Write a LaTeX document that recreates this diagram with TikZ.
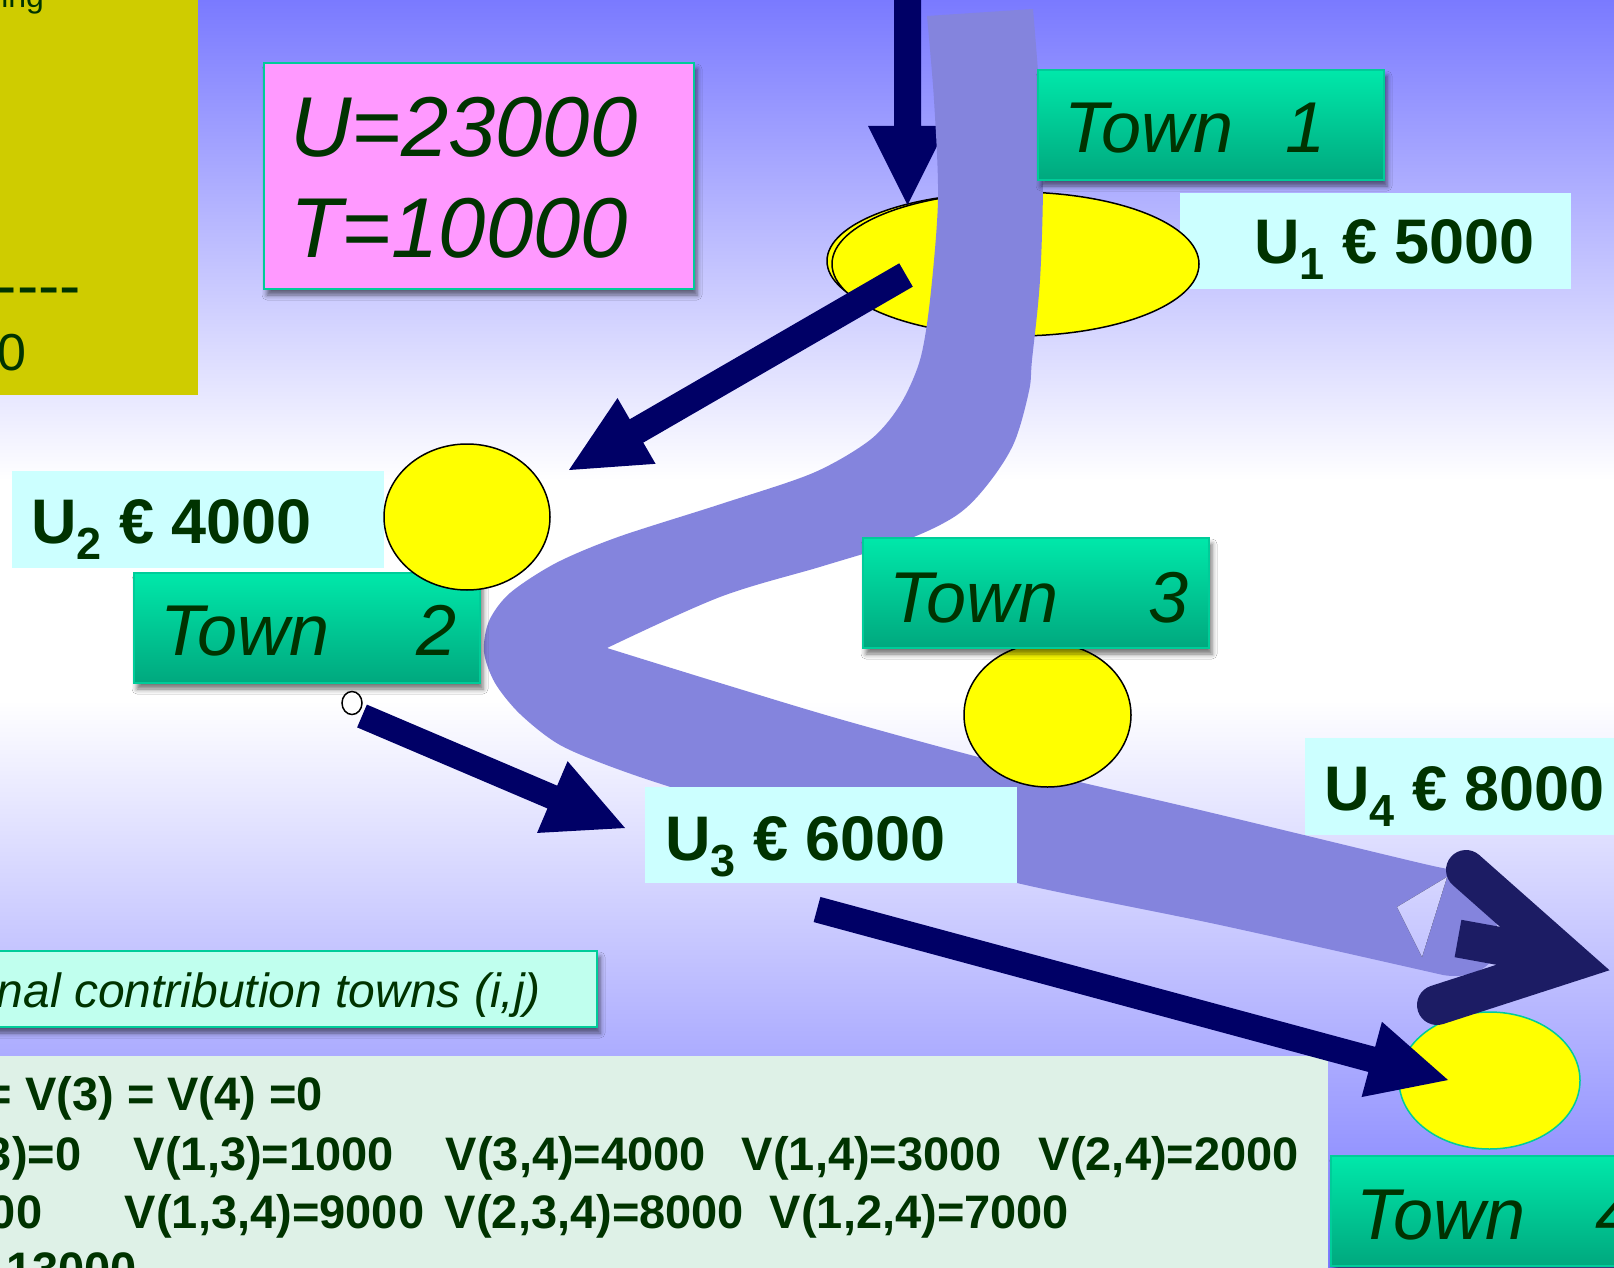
\documentclass[tikz,border=0pt]{standalone}
\usepackage{fontspec}
\setmainfont{Liberation Sans}
\usetikzlibrary{calc,shapes.geometric,shadows.blur}

\definecolor{bgblue}{RGB}{122,122,255}
\definecolor{navyc}{RGB}{0,0,102}
\definecolor{chevc}{RGB}{28,28,100}
\definecolor{bandc}{RGB}{132,132,221}
\definecolor{textc}{RGB}{0,51,0}
\definecolor{olivebox}{RGB}{207,204,0}
\definecolor{pinkbox}{RGB}{255,153,255}
\definecolor{tealline}{RGB}{0,204,153}
\definecolor{towntop}{RGB}{0,232,170}
\definecolor{townbot}{RGB}{0,168,126}
\definecolor{ucyan}{RGB}{204,255,255}
\definecolor{notebox}{RGB}{192,255,238}
\definecolor{tablebox}{RGB}{222,241,231}
\definecolor{sun}{RGB}{255,255,0}

\newcommand\fs[1]{\fontsize{#1}{#1}\selectfont}
% U label with a lowered index
\newcommand\ulab[2]{U\raisebox{-16pt}{\fs{45}#1} €~#2}
% block arrow: [colour] {tail} {tip} {half shaft} {half head} {head length}
\newcommand\fatarrow[6][navyc]{%
  \coordinate (fa base) at ($(#3)!#6!(#2)$);
  \fill[#1] ($(#2)!#4!90:(#3)$) -- ($(fa base)!#4!90:(#3)$) -- ($(fa base)!#5!90:(#3)$)
    -- (#3) -- ($(fa base)!#5!-90:(#3)$) -- ($(fa base)!#4!-90:(#3)$) -- ($(#2)!#4!-90:(#3)$) -- cycle;}

\begin{document}
\begin{tikzpicture}[x=1pt,y=-1pt,
  every node/.style={inner sep=0pt, outer sep=0pt},
  txt/.style={text=textc, anchor=base west},
  boxshadow/.style={blur shadow={shadow xshift=3pt, shadow yshift=-6pt, shadow blur radius=5pt, shadow opacity=55}},
  townbox/.style={rectangle, draw=tealline, line width=1.2pt, top color=towntop, bottom color=townbot,
    boxshadow, minimum width=346pt, minimum height=110pt, anchor=north west},
  ubox/.style={rectangle, fill=ucyan, anchor=north west},
  spot/.style={ellipse, draw=black, line width=1.5pt, fill=sun},
]
\useasboundingbox (0,0) rectangle (1614,1268);

% sky-like background
\fill[white] (0,470) rectangle (1614,710);
\fill[top color=bgblue, bottom color=white] (0,0) rectangle (1614,480);
\fill[top color=white, bottom color=bgblue] (0,700) rectangle (1614,1268);

% panels
\node[rectangle, fill=olivebox, minimum width=198pt, minimum height=395pt, anchor=north west] (notes) at (0,0) {};
\node[rectangle, fill=tablebox, minimum width=1328pt, minimum height=215pt, anchor=north west] (table) at (0,1056) {};
\node[rectangle, fill=notebox, draw=tealline, line width=1.5pt, boxshadow, minimum width=617pt, minimum height=76pt, anchor=north west] (caption) at (-20,951) {};
\node[rectangle, fill=pinkbox, draw=tealline, line width=1.5pt, boxshadow, minimum width=430pt, minimum height=226pt, anchor=north west] (totals) at (264,63) {};

\node[ubox, minimum width=391pt, minimum height=96pt] (u1box) at (1180,193) {};
\node[ubox, minimum width=372pt, minimum height=97pt] (u2box) at (12,471) {};

% town 1
\node[spot, minimum width=356pt, minimum height=136pt] (town1rim) at (1005,261) {};
\node[spot, minimum width=367pt, minimum height=144pt] (town1spot) at (1015.5,264) {};

% incoming arrow from above
\coordinate (a1s) at (907.5,-2);
\coordinate (a1e) at (907.5,205);
\fatarrow{a1s}{a1e}{13.5pt}{39.5pt}{79pt}

% the winding route
\fill[bandc] (927,16) -- (1033,9)
  -- plot[smooth, tension=0.55] coordinates {(1033,9) (1040,100) (1043,180) (1040,280) (1032,360) (1029,391) (1014,443) (988,484) (957,515) (906,540) (823,566) (720,597) (607,648)}
  -- plot[smooth, tension=0.55] coordinates {(607,648) (720,683) (850,722) (1017,767) (1200,810) (1420,863) (1447,868)}
  .. controls (1490,880) and (1505,930) .. (1495,955)
  .. controls (1485,975) and (1460,978) .. (1443,975)
  -- plot[smooth, tension=0.5] coordinates {(1443,975) (1220,925) (1017,883) (850,838) (700,796) (620,770) (560,745) (520,714) (495,683) (484,652) (489,621) (510,593) (556,563) (618,537) (721,504) (813,473) (870,440) (900,405) (920,360) (930,300) (938,200) (934,100) (927,16)}
  -- cycle;
\begin{scope}
  \clip (1397,907) -- (1447,877) -- (1422,957) -- cycle;
  \fill[top color=white, bottom color=bgblue] (0,700) rectangle (1614,1268);
\end{scope}

\node[ubox, minimum width=372pt, minimum height=96pt] (u3box) at (645,787) {};
\node[ubox, minimum width=320pt, minimum height=97pt] (u4box) at (1305,738) {};

% town 1 to town 2
\coordinate (a2s) at (906,275);
\coordinate (a2e) at (569,470);
\fatarrow{a2s}{a2e}{13.5pt}{38pt}{78pt}

\node[townbox] (town1) at (1038,70) {};
\node[townbox] (town2) at (134,573) {};
\node[spot, minimum width=166pt, minimum height=146pt] (town2spot) at (467,517) {};
\node[spot, minimum width=167pt, minimum height=144pt] (town3spot) at (1047.5,715) {};
\node[townbox] (town3) at (863,538) {};

% town 2 to town 3
\node[ellipse, draw=black, fill=white, line width=1.5pt, minimum width=20pt, minimum height=23pt] (start2) at (352,703) {};
\coordinate (a3s) at (362,716);
\coordinate (a3e) at (625,828);
\fatarrow{a3s}{a3e}{12.4pt}{39pt}{79pt}

% town 3 to town 4
\node[ellipse, draw=tealline, fill=sun, line width=1.5pt, minimum width=181pt, minimum height=137pt] (town4spot) at (1489.5,1080.5) {};
\coordinate (a4s) at (817,909.5);
\coordinate (a4e) at (1448,1080);
\fatarrow{a4s}{a4e}{13pt}{39pt}{79pt}

% head at the end of the route
\coordinate (chevA) at (1466,870);
\coordinate (chevV) at (1570,962);
\coordinate (chevB) at (1437,1005);
\draw[chevc, line width=40pt, line cap=round, line join=miter] (chevA) -- (chevV) -- (chevB);
\coordinate (stubA) at (1458,938.5);
\coordinate (stubB) at (1560,957);
\draw[chevc, line width=38pt] (stubA) -- (stubB);

\node[townbox] (town4) at (1331,1156) {};

% texts
\node[txt, font=\fs{32}, anchor=base east] (ingtxt) at (44,8) {ing};
\node[txt, font=\fs{64}, anchor=base east] (dashtxt) at (81,307) {-\kern0pt-\kern0pt-\kern0pt-};
\node[txt, font=\fs{52}] (zerotxt) at (-2,370) {0};
\node[txt, font=\itshape\fs{85}] (utotal) at (290,157) {U=23000};
\node[txt, font=\itshape\fs{85}] (ttotal) at (290,258) {T=10000};

\node[txt, font=\itshape\fs{72}] (t1txt) at (1064,153) {Town\hspace{52pt}1};
\node[txt, font=\itshape\fs{72}] (t2txt) at (160,655) {Town\hspace{87pt}2};
\node[txt, font=\itshape\fs{72}] (t3txt) at (889,622) {Town\hspace{90pt}3};
\node[txt, font=\itshape\fs{72}] (t4txt) at (1356,1239) {Town\hspace{70pt}4};

\node[txt, font=\bfseries\fs{63}] (u1txt) at (1254,263) {\ulab{1}{5000}};
\node[txt, font=\bfseries\fs{63}] (u2txt) at (31,543) {\ulab{2}{4000}};
\node[txt, font=\bfseries\fs{63}] (u3txt) at (665,860) {\ulab{3}{6000}};
\node[txt, font=\bfseries\fs{63}] (u4txt) at (1324,810) {\ulab{4}{8000}};

\node[txt, font=\itshape\fs{48}, anchor=base east] (captxt) at (541,1007) {nal contribution towns (i,j)};

\node[txt, font=\bfseries\fs{47}, anchor=base east] (v1line) at (323,1110) {= V(3) = V(4) =0};
\node[txt, font=\bfseries\fs{47}] (v2line) at (-14,1170) {\makebox[148pt][l]{3)=0}\makebox[312pt][l]{V(1,3)=1000}\makebox[296pt][l]{V(3,4)=4000}\makebox[297pt][l]{V(1,4)=3000}V(2,4)=2000};
\node[txt, font=\bfseries\fs{47}] (v3line) at (-10,1228) {\makebox[135pt][l]{00}\makebox[320pt][l]{V(1,3,4)=9000}\makebox[325pt][l]{V(2,3,4)=8000}V(1,2,4)=7000};
\node[txt, font=\bfseries\fs{47}] (v4line) at (6,1285) {13000};
\end{tikzpicture}
\end{document}
